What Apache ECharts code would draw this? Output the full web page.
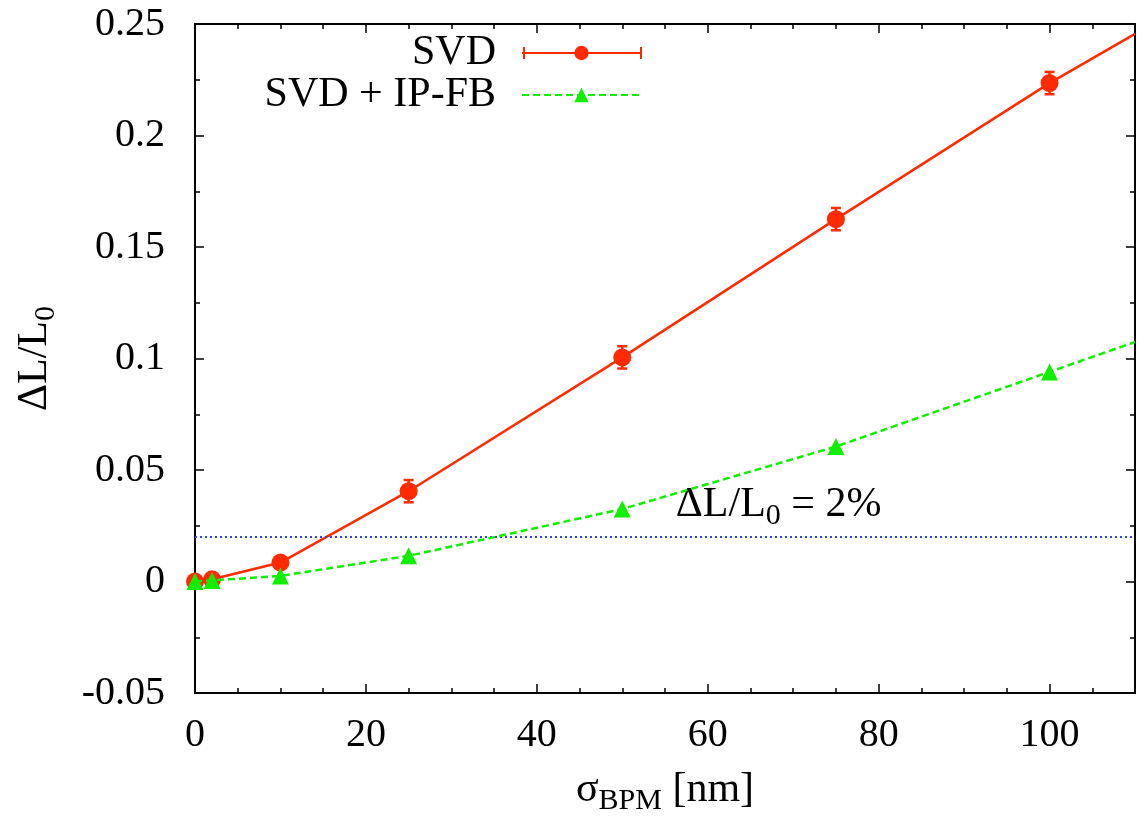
<!DOCTYPE html>
<html><head><meta charset="utf-8">
<script src="https://cdn.jsdelivr.net/npm/echarts@6/dist/echarts.min.js"></script>
<style>html,body{margin:0;padding:0;background:#fff}#c{width:1146px;height:817px}</style>
</head><body><div id="c"></div>
<script>
// ---- data ----
const sigmaBPM = [0, 2, 10, 25, 50, 75, 100];
const svd = [0.0, 0.001, 0.0085, 0.0405, 0.1005, 0.1625, 0.2235];
const svdErr = [0.001, 0.001, 0.002, 0.005, 0.005, 0.005, 0.005];
const svdFb = [0.0, 0.0005, 0.0025, 0.0115, 0.0325, 0.0605, 0.094];
// continuation of each curve to the right edge of the plot (x = 110)
const edgeX = 110;
const svdEdge = 0.2456;
const svdFbEdge = 0.1074;
const threshold = 0.02;
const xTicks = [0, 20, 40, 60, 80, 100];
const yTicks = [-0.05, 0, 0.05, 0.1, 0.15, 0.2, 0.25];

const RED = '#ff2a00', GREEN = '#11ee00', BLUE = '#2a44ee';
const FONT = 'Liberation Serif';

const svdData = sigmaBPM.map((x, i) => [x, svd[i]]).concat([{value: [edgeX, svdEdge], symbol: 'none'}]);
const fbData = sigmaBPM.map((x, i) => [x, svdFb[i]]).concat([{value: [edgeX, svdFbEdge], symbol: 'none'}]);
const errData = sigmaBPM.map((x, i) => [x, svd[i] - svdErr[i], svd[i] + svdErr[i]]);

const axisLine = {show: true, onZero: false, lineStyle: {color: '#000', width: 2}};
const axisTick = {show: true, inside: true, length: 9, lineStyle: {color: '#000', width: 1.5}};
const minorBase = {show: true, length: 5, lineStyle: {color: '#000', width: 1.5}};
const richSub = {
  g: {fontFamily: FONT, fontSize: 42, color: '#000'},
  s: {fontFamily: FONT, fontSize: 30, color: '#000', verticalAlign: 'bottom', padding: [23, 0, 0, 0]}
};

const chart = echarts.init(document.getElementById('c'));
chart.setOption({
  animation: false,
  backgroundColor: '#fff',
  grid: {left: 195, right: 11, top: 24, bottom: 124, containLabel: false, outerBoundsMode: 'none'},
  legend: {
    orient: 'vertical', align: 'right', right: 504, top: 32, padding: 0,
    itemWidth: 119, itemHeight: 18, itemGap: 0,
    textStyle: {fontFamily: FONT, fontSize: 42, color: '#000', padding: [0, 21, 0, 0]},
    data: ['SVD', 'SVD + IP-FB']
  },
  graphic: [
    {type: 'line', shape: {x1: 524, y1: 47, x2: 524, y2: 59}, style: {stroke: RED, lineWidth: 2}},
    {type: 'line', shape: {x1: 641, y1: 47, x2: 641, y2: 59}, style: {stroke: RED, lineWidth: 2}}
  ],
  xAxis: [{
    type: 'value', min: 0, max: 110, interval: 20,
    axisLine: axisLine, axisTick: axisTick, splitLine: {show: false},
    minorTick: Object.assign({}, minorBase, {splitNumber: 4}),
    axisLabel: {fontFamily: FONT, fontSize: 40, color: '#000', margin: 22,
      formatter: v => xTicks.includes(v) ? String(v) : ''},
    name: '{g|σ}{s|BPM}{g| [nm]}', nameLocation: 'middle', nameGap: 70,
    nameTextStyle: {rich: richSub}
  }, {
    type: 'value', position: 'top', min: 0, max: 110, interval: 20,
    axisLine: axisLine, axisTick: axisTick, splitLine: {show: false},
    minorTick: Object.assign({}, minorBase, {splitNumber: 4}),
    axisLabel: {show: false}
  }],
  yAxis: [{
    type: 'value', min: -0.05, max: 0.25, interval: 0.05,
    axisLine: axisLine, axisTick: axisTick, splitLine: {show: false},
    minorTick: Object.assign({}, minorBase, {splitNumber: 2}),
    axisLabel: {fontFamily: FONT, fontSize: 40, color: '#000', margin: 30,
      formatter: v => String(parseFloat(v.toFixed(3)))},
    name: '{g|ΔL/L}{s|0}', nameLocation: 'middle', nameGap: 134, nameRotate: 90,
    nameTextStyle: {rich: richSub}
  }, {
    type: 'value', position: 'right', min: -0.05, max: 0.25, interval: 0.05,
    axisLine: axisLine, axisTick: axisTick, splitLine: {show: false},
    minorTick: Object.assign({}, minorBase, {splitNumber: 2}),
    axisLabel: {show: false}
  }],
  series: [
    {
      name: 'SVD', type: 'line', data: svdData,
      symbol: 'circle', symbolSize: 18,
      itemStyle: {color: RED}, lineStyle: {color: RED, width: 2.5},
      z: 4
    },
    {
      name: 'SVD', type: 'custom', data: errData, z: 3,
      renderItem: function (params, api) {
        const x = api.value(0);
        const p1 = api.coord([x, api.value(1)]);
        const p2 = api.coord([x, api.value(2)]);
        const w = 5;
        const st = {stroke: RED, lineWidth: 2.5};
        return {type: 'group', children: [
          {type: 'line', shape: {x1: p1[0], y1: p1[1], x2: p2[0], y2: p2[1]}, style: st},
          {type: 'line', shape: {x1: p1[0] - w, y1: p1[1], x2: p1[0] + w, y2: p1[1]}, style: st},
          {type: 'line', shape: {x1: p2[0] - w, y1: p2[1], x2: p2[0] + w, y2: p2[1]}, style: st}
        ]};
      }
    },
    {
      name: 'SVD + IP-FB', type: 'line', data: fbData,
      symbol: 'triangle', symbolSize: 17,
      itemStyle: {color: GREEN}, lineStyle: {color: GREEN, width: 2.5, type: [7, 4]},
      z: 5,
      markLine: {
        silent: true, symbol: 'none',
        lineStyle: {color: BLUE, width: 2, type: [2, 3]},
        label: {show: false},
        emphasis: {disabled: true},
        data: [{yAxis: threshold}]
      },
      markPoint: {
        symbol: 'circle', symbolSize: 0,
        label: {show: true, position: 'inside', formatter: '{g|ΔL/L}{s|0}{g| = 2%}', rich: richSub},
        data: [{coord: [68.3, 0.0345]}]
      }
    }
  ]
});
</script></body></html>
